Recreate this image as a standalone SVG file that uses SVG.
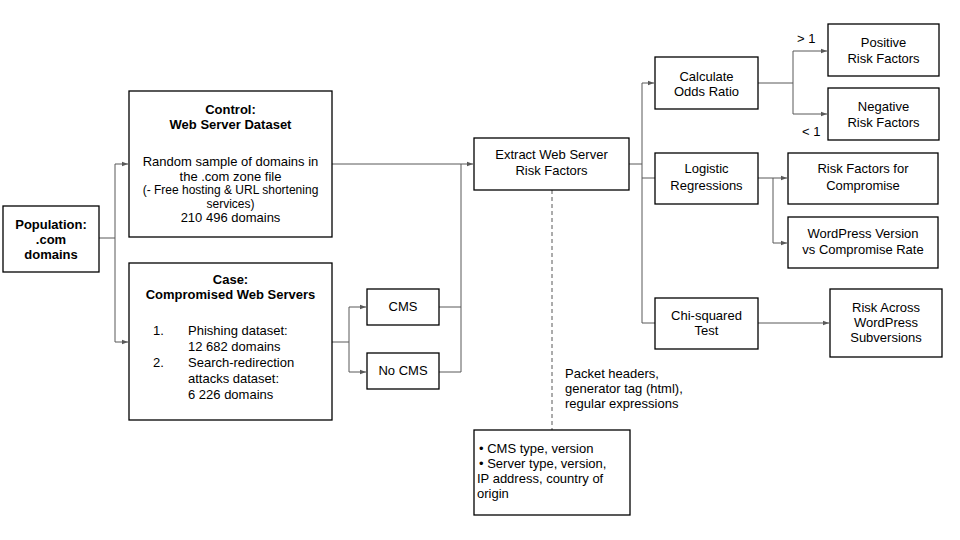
<svg xmlns="http://www.w3.org/2000/svg" width="960" height="540" viewBox="0 0 960 540">
<defs>
<style>
.box{fill:#fff;stroke:#000;stroke-width:1.3}
.c{fill:none;stroke:#595959;stroke-width:1}
.d{fill:none;stroke:#595959;stroke-width:1;stroke-dasharray:4 3}
text{font-family:"Liberation Sans",Arial,sans-serif;font-size:13px;fill:#000}
.m{text-anchor:middle}
.b{font-weight:bold}
.s{font-size:12px}
</style>
<marker id="ah" markerWidth="7" markerHeight="6" refX="6" refY="3" orient="auto" markerUnits="userSpaceOnUse">
<path d="M0,0.8 L6,3 L0,5.2 Z" fill="#595959"/>
</marker>
</defs>
<rect width="960" height="540" fill="#fff"/>
<g id="connectors">
<path class="c" d="M99,238 H115 V164 H128" marker-end="url(#ah)"/>
<path class="c" d="M115,238 V342 H128" marker-end="url(#ah)"/>
<path class="c" d="M332,342 H349 V307 H366" marker-end="url(#ah)"/>
<path class="c" d="M349,342 V372 H366" marker-end="url(#ah)"/>
<path class="c" d="M439,307 H461 V164"/>
<path class="c" d="M439,372 H461 V307"/>
<path class="c" d="M332,164 H473" marker-end="url(#ah)"/>
<path class="c" d="M629,164 H642"/>
<path class="c" d="M642,323 V83 H654" marker-end="url(#ah)"/>
<path class="c" d="M642,178 H655"/>
<path class="c" d="M642,323 H655"/>
<path class="c" d="M758,83 H793 V51 H827" marker-end="url(#ah)"/>
<path class="c" d="M793,83 V114 H827" marker-end="url(#ah)"/>
<path class="c" d="M758,178 H787" marker-end="url(#ah)"/>
<path class="c" d="M773,178 V243 H787" marker-end="url(#ah)"/>
<path class="c" d="M758,323 H829" marker-end="url(#ah)"/>
<path class="d" d="M552,190 V430"/>
</g>
<g id="population">
<rect class="box" x="3" y="206" width="96" height="66"/>
<text class="m b" x="51" y="229">Population:</text>
<text class="m b" x="51" y="244">.com</text>
<text class="m b" x="51" y="259">domains</text>
</g>
<g id="control">
<rect class="box" x="129" y="91" width="203" height="146"/>
<text class="m b" x="230.5" y="114">Control:</text>
<text class="m b" x="230.5" y="129">Web Server Dataset</text>
<text class="m" x="230.5" y="166">Random sample of domains in</text>
<text class="m" x="230.5" y="181">the .com zone file</text>
<text class="m s" x="230.5" y="194">(- Free hosting &amp; URL shortening</text>
<text class="m s" x="230.5" y="208">services)</text>
<text class="m" x="230.5" y="222">210 496 domains</text>
</g>
<g id="case">
<rect class="box" x="129" y="263" width="203" height="157"/>
<text class="m b" x="230.5" y="284">Case:</text>
<text class="m b" x="230.5" y="299">Compromised Web Servers</text>
<text x="153" y="335">1.</text>
<text x="188" y="335">Phishing dataset:</text>
<text x="188" y="351">12 682 domains</text>
<text x="153" y="367">2.</text>
<text x="188" y="367">Search-redirection</text>
<text x="188" y="383">attacks dataset:</text>
<text x="188" y="399">6 226 domains</text>
</g>
<g id="cms">
<rect class="box" x="367" y="289" width="72" height="36"/>
<text class="m" x="403" y="311">CMS</text>
</g>
<g id="nocms">
<rect class="box" x="367" y="353" width="72" height="36"/>
<text class="m" x="403" y="375">No CMS</text>
</g>
<g id="extract">
<rect class="box" x="474" y="138" width="155" height="52"/>
<text class="m" x="551.5" y="159">Extract Web Server</text>
<text class="m" x="551.5" y="175">Risk Factors</text>
</g>
<g id="method-label">
<text x="565" y="378">Packet headers,</text>
<text x="565" y="393">generator tag (html),</text>
<text x="565" y="408">regular expressions</text>
</g>
<g id="features">
<rect class="box" x="474" y="430" width="156" height="85"/>
<text x="479" y="453">• CMS type, version</text>
<text x="479" y="468">• Server type, version,</text>
<text x="477" y="483">IP address, country of</text>
<text x="477" y="498">origin</text>
</g>
<g id="odds">
<rect class="box" x="655" y="57" width="103" height="52"/>
<text class="m" x="706.5" y="81">Calculate</text>
<text class="m" x="706.5" y="96">Odds Ratio</text>
</g>
<g id="positive">
<rect class="box" x="828" y="24" width="111" height="52"/>
<text class="m" x="883.5" y="47">Positive</text>
<text class="m" x="883.5" y="63">Risk Factors</text>
</g>
<g id="negative">
<rect class="box" x="828" y="88" width="111" height="52"/>
<text class="m" x="883.5" y="111">Negative</text>
<text class="m" x="883.5" y="127">Risk Factors</text>
</g>
<g id="labels">
<text x="797" y="43">&gt; 1</text>
<text x="802" y="136">&lt; 1</text>
</g>
<g id="logistic">
<rect class="box" x="655" y="153" width="103" height="51"/>
<text class="m" x="706.5" y="173">Logistic</text>
<text class="m" x="706.5" y="190">Regressions</text>
</g>
<g id="riskfactors">
<rect class="box" x="788" y="153" width="150" height="51"/>
<text class="m" x="863" y="173">Risk Factors for</text>
<text class="m" x="863" y="190">Compromise</text>
</g>
<g id="wpversion">
<rect class="box" x="788" y="217" width="150" height="51"/>
<text class="m" x="863" y="238">WordPress Version</text>
<text class="m" x="863" y="254">vs Compromise Rate</text>
</g>
<g id="chi">
<rect class="box" x="655" y="298" width="103" height="51"/>
<text class="m" x="706.5" y="320">Chi-squared</text>
<text class="m" x="706.5" y="335">Test</text>
</g>
<g id="riskacross">
<rect class="box" x="830" y="289" width="112" height="68"/>
<text class="m" x="886" y="312">Risk Across</text>
<text class="m" x="886" y="327">WordPress</text>
<text class="m" x="886" y="342">Subversions</text>
</g>
</svg>
